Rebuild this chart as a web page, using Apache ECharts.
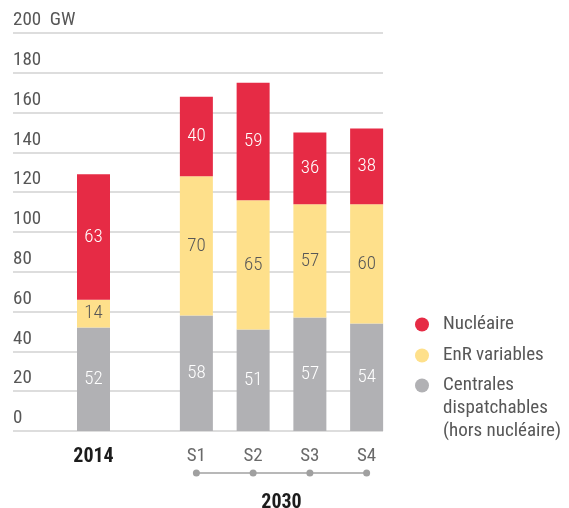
<!DOCTYPE html>
<html>
<head>
<meta charset="utf-8">
<script src="https://cdn.jsdelivr.net/npm/echarts@6/dist/echarts.min.js"></script>
<style>
  html, body { margin: 0; padding: 0; background: #fff; }
  #chart { width: 569px; height: 508px; }
</style>
</head>
<body>
<div id="chart"></div>
<script>
// Installed capacity (GW) by source: 2014 and the four 2030 scenarios
const yearCategories = ['2014'];
const scenarioCategories = ['S1', 'S2', 'S3', 'S4'];
const dispatchable2014 = [52];
const renewables2014 = [14];
const nuclear2014 = [63];
const dispatchable2030 = [58, 51, 57, 54];
const renewables2030 = [70, 65, 57, 60];
const nuclear2030 = [40, 59, 36, 38];
const yTicks = [0, 20, 40, 60, 80, 100, 120, 140, 160, 180, 200];

const FONT = "'Roboto Condensed', 'Liberation Sans Narrow', 'DejaVu Sans Condensed', 'Roboto', sans-serif";
const RED = '#e62b45';
const YELLOW = '#fee08b';
const GREY = '#b1b1b4';
const TEXT_GREY = '#575757';
const NAME_NUC = 'Nucléaire';
const NAME_ENR = 'EnR variables';
const NAME_DISP = 'Centrales\ndispatchables\n(hors nucléaire)';

const chart = echarts.init(document.getElementById('chart'), null, { renderer: 'canvas' });

const gridTop = 33, gridBottom = 77;
const yMax = yTicks[yTicks.length - 1];
const yStep = yTicks[1] - yTicks[0];

function hiddenY(gridIndex) {
  return { type: 'value', gridIndex, min: 0, max: yMax, interval: yStep, show: false };
}

function barLabel(color) {
  return { show: true, position: 'inside', color, fontFamily: FONT, fontSize: 19, fontWeight: 300 };
}

function stackSeries(xIdx, stack, disp, enr, nuc) {
  return [
    { name: NAME_DISP, type: 'bar', stack, xAxisIndex: xIdx, yAxisIndex: xIdx, barWidth: 33,
      itemStyle: { color: GREY }, label: barLabel('#ffffff'), data: disp },
    { name: NAME_ENR, type: 'bar', stack, xAxisIndex: xIdx, yAxisIndex: xIdx, barWidth: 33,
      itemStyle: { color: YELLOW }, label: barLabel(TEXT_GREY), data: enr },
    { name: NAME_NUC, type: 'bar', stack, xAxisIndex: xIdx, yAxisIndex: xIdx, barWidth: 33,
      itemStyle: { color: RED }, label: barLabel('#ffffff'), data: nuc }
  ];
}

const gridBase = { top: gridTop, bottom: gridBottom, outerBoundsMode: 'none', containLabel: false };

const legendText = { color: TEXT_GREY, fontSize: 19, fontFamily: FONT, lineHeight: 23, padding: [0, 0, 0, 9] };
const legendBase = {
  orient: 'vertical', left: 415, padding: 0, itemWidth: 14, itemHeight: 14, itemGap: 8,
  icon: 'circle', textStyle: legendText
};

const option = {
  animation: false,
  backgroundColor: '#ffffff',
  textStyle: { fontFamily: FONT },
  grid: [
    Object.assign({ left: 13, right: 186 }, gridBase),
    Object.assign({ left: 60, width: 67 }, gridBase),
    Object.assign({ left: 168, width: 227 }, gridBase)
  ],
  xAxis: [
    { type: 'category', gridIndex: 0, data: [''], show: false },
    { type: 'category', gridIndex: 1, data: yearCategories,
      axisLine: { show: false }, axisTick: { show: false },
      axisLabel: { margin: 16, color: '#1c1c1c', fontWeight: 'bold', fontSize: 20, fontFamily: FONT } },
    { type: 'category', gridIndex: 2, data: scenarioCategories,
      axisLine: { show: false }, axisTick: { show: false },
      axisLabel: { margin: 16, color: '#6a6a6a', fontSize: 19, fontFamily: FONT },
      name: '2030', nameLocation: 'middle', nameGap: 62,
      nameTextStyle: { color: '#1c1c1c', fontWeight: 'bold', fontSize: 20, fontFamily: FONT } }
  ],
  yAxis: [
    { type: 'value', gridIndex: 0, min: 0, max: yMax, interval: yStep,
      axisLine: { show: false }, axisTick: { show: false },
      splitLine: { show: true, lineStyle: { color: '#dddddd', width: 2 } },
      axisLabel: {
        inside: true, margin: 0, verticalAlign: 'bottom', padding: [0, 0, 3, 0],
        color: TEXT_GREY, fontSize: 19, fontFamily: FONT,
        formatter: v => (v === yMax ? v + '  GW' : String(v))
      } },
    hiddenY(1),
    hiddenY(2)
  ],
  legend: [
    Object.assign({ top: 313, data: [NAME_NUC, NAME_ENR] }, legendBase),
    // two leading blank lines keep the marker level with the first line of the label
    Object.assign({ top: 328, data: [NAME_DISP], formatter: name => '\n\n' + name }, legendBase)
  ],
  series: [
    ...stackSeries(1, 'y2014', dispatchable2014, renewables2014, nuclear2014),
    ...stackSeries(2, 'y2030', dispatchable2030, renewables2030, nuclear2030)
  ]
};

chart.setOption(option);

// Connector with dots under the scenario labels
const xs = scenarioCategories.map(c => chart.convertToPixel({ xAxisIndex: 2 }, c));
const axisY = chart.convertToPixel({ yAxisIndex: 2 }, 0);
const dotY = axisY + 42;
const elements = [{
  type: 'line', silent: true,
  shape: { x1: xs[0], y1: dotY, x2: xs[xs.length - 1], y2: dotY },
  style: { stroke: '#a0a0a0', lineWidth: 1.5 }
}];
xs.forEach(x => elements.push({
  type: 'circle', silent: true, shape: { cx: x, cy: dotY, r: 3.5 }, style: { fill: '#a0a0a0' }
}));
chart.setOption({ graphic: elements });
</script>
</body>
</html>
